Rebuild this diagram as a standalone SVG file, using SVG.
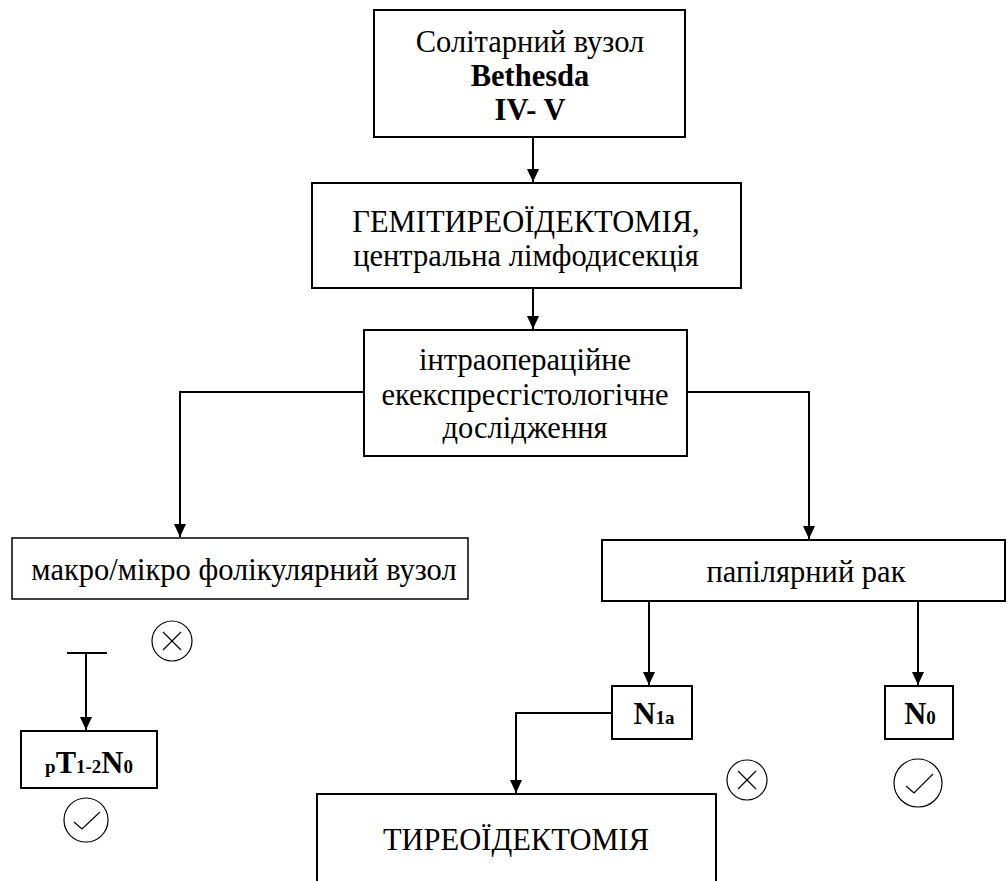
<svg xmlns="http://www.w3.org/2000/svg" width="1007" height="881" viewBox="0 0 1007 881">
<style>
.box{fill:#fff;stroke:#000;stroke-width:2}
.thin{fill:#fff;stroke:#000;stroke-width:1.5}
.t{font-family:"Liberation Serif","DejaVu Serif",serif;font-size:30.5px;fill:#000;text-anchor:middle}
.b{font-weight:bold}
.s{font-size:19px}
.ln{fill:none;stroke:#000;stroke-width:2}
.c{fill:none;stroke:#000;stroke-width:1.2}
</style>
<defs>
<marker id="ah" markerWidth="12" markerHeight="13" refX="13" refY="6" orient="auto" markerUnits="userSpaceOnUse">
<path d="M0,0 L13,6 L0,12 Z" fill="#000"/>
</marker>
</defs>
<rect width="1007" height="881" fill="#fff"/>
<g id="connectors">
<path class="ln" d="M533,137 V182" marker-end="url(#ah)"/>
<path class="ln" d="M533,288 V329" marker-end="url(#ah)"/>
<path class="ln" d="M364,392 H180 V537" marker-end="url(#ah)"/>
<path class="ln" d="M687,392 H809 V539" marker-end="url(#ah)"/>
<path class="ln" d="M649,601 V685" marker-end="url(#ah)"/>
<path class="ln" d="M918,601 V685" marker-end="url(#ah)"/>
<path class="ln" d="M612,713 H516 V793" marker-end="url(#ah)"/>
<path class="ln" d="M67,653 H107 M86,653 V730" marker-end="url(#ah)"/>
</g>
<g id="n1">
<rect class="box" x="374" y="10" width="311" height="127"/>
<text class="t" x="530" y="52">Солітарний вузол</text>
<text class="t b" x="530" y="86">Bethesda</text>
<text class="t b" x="530" y="120">IV- V</text>
</g>
<g id="n2">
<rect class="box" x="312" y="183" width="429" height="105"/>
<text class="t" x="526" y="232">ГЕМІТИРЕОЇДЕКТОМІЯ,</text>
<text class="t" x="526" y="266">центральна лімфодисекція</text>
</g>
<g id="n3">
<rect class="box" x="364" y="330" width="323" height="126"/>
<text class="t" x="525" y="370">інтраопераційне</text>
<text class="t" x="525" y="405">екекспресгістологічне</text>
<text class="t" x="525" y="438">дослідження</text>
</g>
<g id="n4">
<rect class="thin" x="12" y="538" width="456" height="61"/>
<text class="t" x="244" y="580">макро/мікро фолікулярний вузол</text>
</g>
<g id="n5">
<rect class="box" x="602" y="540" width="403" height="61"/>
<text class="t" x="806" y="582">папілярний рак</text>
</g>
<g id="n6">
<rect class="box" x="21" y="731" width="136" height="57"/>
<text class="t b" x="89" y="773"><tspan class="s">p</tspan><tspan>T</tspan><tspan class="s">1-2</tspan><tspan>N</tspan><tspan class="s">0</tspan></text>
</g>
<g id="n7">
<rect class="box" x="612" y="686" width="80" height="53"/>
<text class="t b" x="654" y="724"><tspan>N</tspan><tspan class="s">1a</tspan></text>
</g>
<g id="n8">
<rect class="box" x="885" y="686" width="68" height="53"/>
<text class="t b" x="920" y="724"><tspan>N</tspan><tspan class="s">0</tspan></text>
</g>
<g id="n9">
<path class="box" d="M317,882 V794 H716 V882"/>
<text class="t" x="516" y="850">ТИРЕОЇДЕКТОМІЯ</text>
</g>
<g id="marks">
<circle class="c" cx="172" cy="641" r="20"/>
<path class="c" d="M163,632 L181,650 M181,632 L163,650"/>
<circle class="c" cx="86" cy="820" r="22"/>
<path class="c" d="M74,822 L82,829 L100,812"/>
<circle class="c" cx="918" cy="783" r="24"/>
<path class="c" d="M906,786 L914,793 L933,774"/>
<circle class="c" cx="747" cy="780" r="20"/>
<path class="c" d="M738,771 L756,789 M756,771 L738,789"/>
</g>
</svg>
